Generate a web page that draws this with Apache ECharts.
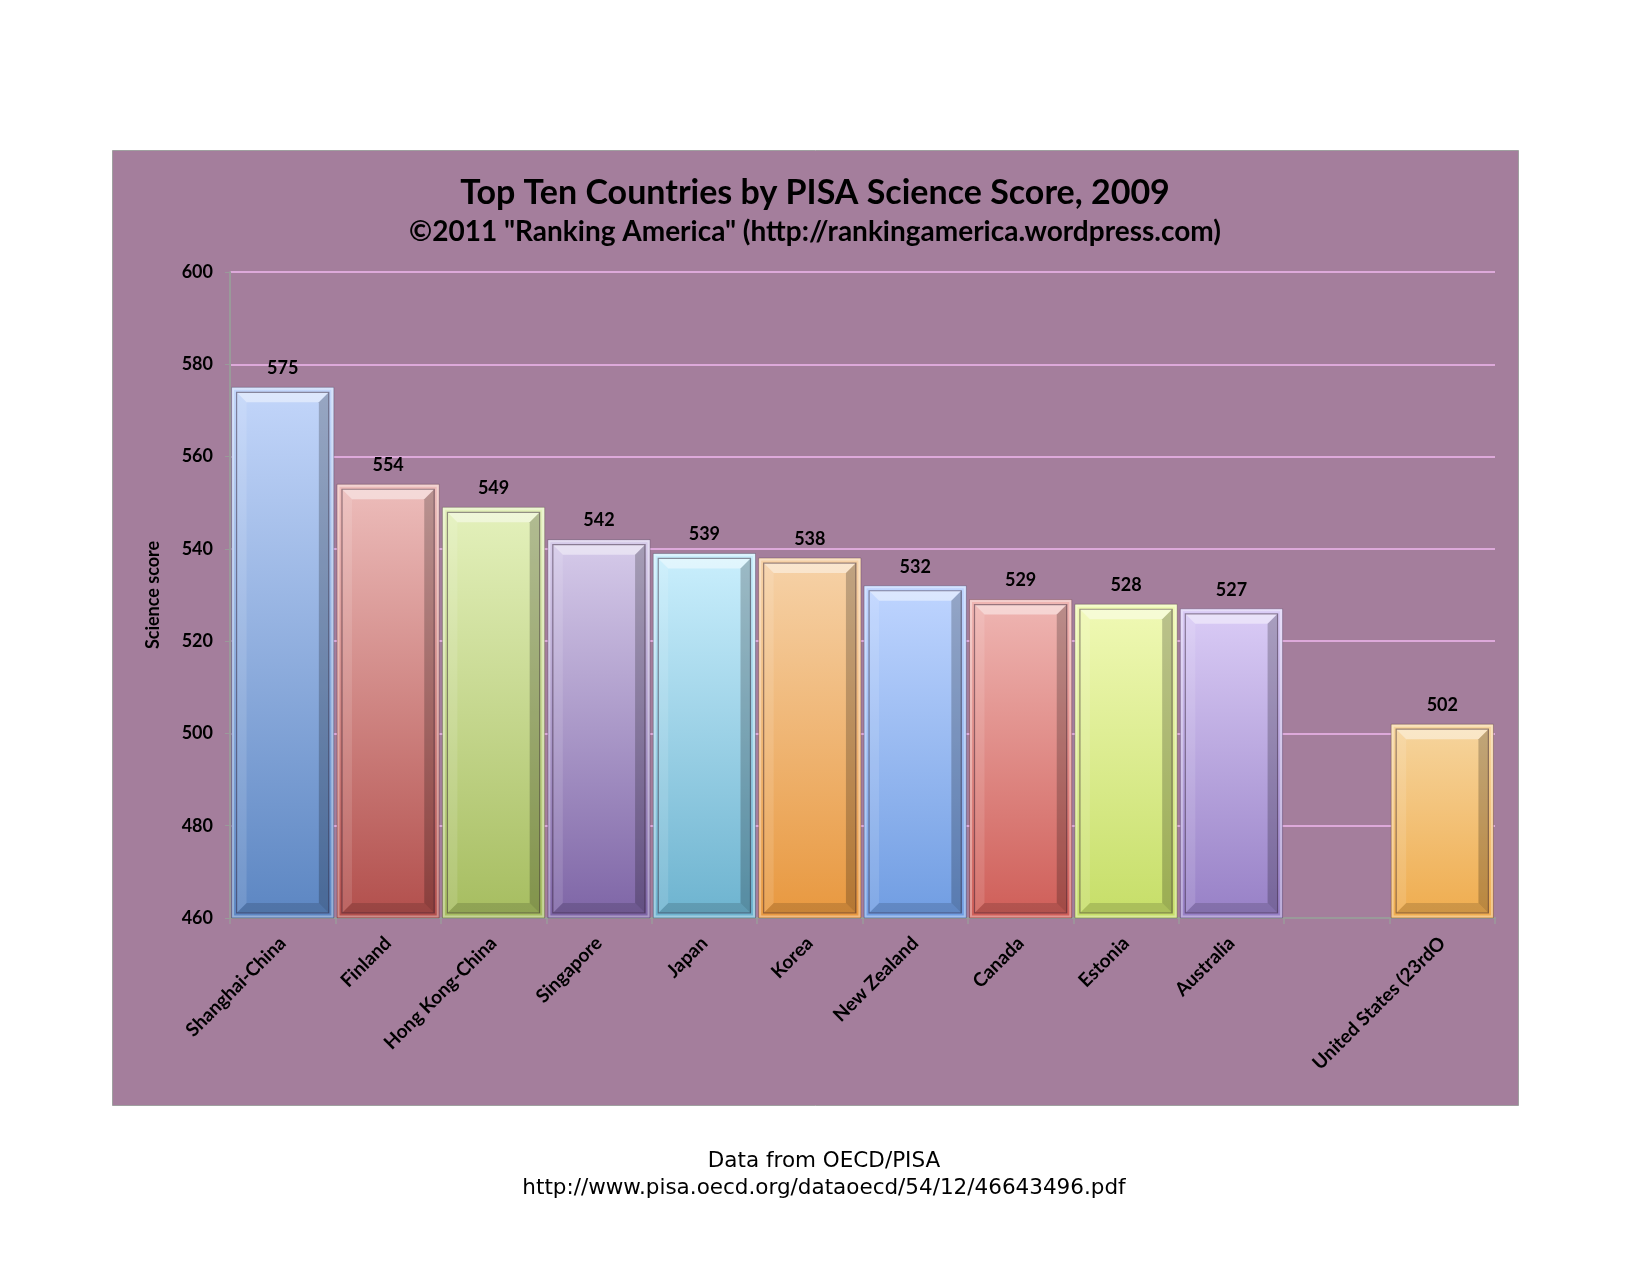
<!DOCTYPE html>
<html>
<head>
<meta charset="utf-8">
<script src="https://cdn.jsdelivr.net/npm/echarts@6/dist/echarts.min.js"></script>
<style>
html,body{margin:0;padding:0;background:#fff;}
#c{width:1651px;height:1275px;}
</style>
</head>
<body>
<div id="c"></div>
<script>
var categories = ['Shanghai-China','Finland','Hong Kong-China','Singapore','Japan','Korea','New Zealand','Canada','Estonia','Australia','','United States (23rdO'];
var scores = [575, 554, 549, 542, 539, 538, 532, 529, 528, 527, null, 502];
var topColors = ['#C3D6FA','#EDBDBB','#E4F1BC','#D6CBEA','#CAEFFD','#F6D2A8','#BFD5FF','#EFB6B3','#F0F9B5','#DACCF6',null,'#F6D59E'];
var bottomColors = ['#5C86C2','#B24F4C','#A6BD60','#7E65A6','#6DB3CF','#E8983F','#709DE2','#CF5E58','#C6DE68','#9780C6',null,'#EFAC4E'];
var yTicks = {min: 460, max: 600, step: 20};

var chart = echarts.init(document.getElementById('c'));
var FONT = 'Lato';

function renderBar(params, api) {
  var idx = api.value(0);
  var val = api.value(1);
  if (val == null || isNaN(val)) return;
  var top = api.coord([idx, val]);
  var bot = api.coord([idx, yTicks.min]);
  var w = api.size([1, 0])[0] * 0.97;
  var x0 = top[0] - w / 2, x1 = x0 + w, y0 = top[1], y1 = bot[1];
  var a = 5, b = 15;
  var grad = new echarts.graphic.LinearGradient(0, 0, 0, 1, [
    {offset: 0, color: topColors[idx]},
    {offset: 1, color: bottomColors[idx]}
  ]);
  return {
    type: 'group',
    children: [
      {type: 'rect', shape: {x: x0, y: y0, width: w, height: y1 - y0},
        style: {fill: grad, stroke: 'rgba(60,40,60,0.3)', lineWidth: 1}},
      {type: 'rect', shape: {x: x0 + 1.5, y: y0 + 1.5, width: w - 3, height: y1 - y0 - 3},
        style: {fill: 'none', stroke: 'rgba(255,255,255,0.35)', lineWidth: 2}},
      {type: 'polygon', shape: {points: [[x0 + a, y0 + a], [x1 - a, y0 + a], [x1 - b, y0 + b], [x0 + b, y0 + b]]},
        style: {fill: 'rgba(255,255,255,0.45)'}},
      {type: 'polygon', shape: {points: [[x0 + a, y1 - a], [x1 - a, y1 - a], [x1 - b, y1 - b], [x0 + b, y1 - b]]},
        style: {fill: 'rgba(0,0,0,0.14)'}},
      {type: 'polygon', shape: {points: [[x0 + a, y0 + a], [x0 + b, y0 + b], [x0 + b, y1 - b], [x0 + a, y1 - a]]},
        style: {fill: 'rgba(255,255,255,0.12)'}},
      {type: 'polygon', shape: {points: [[x1 - a, y0 + a], [x1 - b, y0 + b], [x1 - b, y1 - b], [x1 - a, y1 - a]]},
        style: {fill: 'rgba(0,0,0,0.22)'}},
      {type: 'rect', shape: {x: x0 + a, y: y0 + a, width: w - 2 * a, height: y1 - y0 - 2 * a},
        style: {fill: 'none', stroke: 'rgba(40,20,40,0.45)', lineWidth: 1.2}},
      {type: 'text', x: top[0], y: y0 - 10,
        style: {text: String(val), fill: '#000', font: 'bold 18px ' + FONT, align: 'center', verticalAlign: 'bottom'}}
    ]
  };
}

var data = categories.map(function (c, i) { return [i, scores[i]]; });

chart.setOption({
  animation: false,
  backgroundColor: '#ffffff',
  graphic: [
    {type: 'rect', z: -10, shape: {x: 112.5, y: 150.5, width: 1406, height: 955},
      style: {fill: '#A47E9C', stroke: '#A0A0A0', lineWidth: 1}},
    {type: 'text', x: 815, y: 193, z: 10,
      style: {text: 'Top Ten Countries by PISA Science Score, 2009', font: 'bold 34px ' + FONT, fill: '#000', align: 'center', verticalAlign: 'middle'}},
    {type: 'text', x: 815, y: 232, z: 10,
      style: {text: '\u00A92011 "Ranking America" (http://rankingamerica.wordpress.com)', font: 'bold 28px ' + FONT, fill: '#000', align: 'center', verticalAlign: 'middle'}},
    {type: 'text', x: 824, y: 1161, z: 10,
      style: {text: 'Data from OECD/PISA', font: '21.5px "DejaVu Sans"', fill: '#000', align: 'center', verticalAlign: 'middle'}},
    {type: 'text', x: 824, y: 1188, z: 10,
      style: {text: 'http://www.pisa.oecd.org/dataoecd/54/12/46643496.pdf', font: '21.5px "DejaVu Sans"', fill: '#000', align: 'center', verticalAlign: 'middle'}}
  ],
  grid: {left: 230, top: 272, right: 156, bottom: 357, containLabel: false},
  xAxis: {
    type: 'category',
    data: categories,
    boundaryGap: true,
    axisLine: {show: true, lineStyle: {color: '#9A9A9A', width: 2}},
    axisTick: {show: true, length: 6, lineStyle: {color: '#9A9A9A', width: 1.5}},
    axisLabel: {interval: 0, rotate: 45, margin: 22, color: '#000', fontFamily: FONT, fontWeight: 'bold', fontSize: 19}
  },
  yAxis: {
    type: 'value',
    min: yTicks.min, max: yTicks.max, interval: yTicks.step,
    name: 'Science score',
    nameLocation: 'middle',
    nameGap: 68,
    nameRotate: 90,
    nameTextStyle: {color: '#000', fontFamily: FONT, fontWeight: 'bold', fontSize: 18},
    axisLine: {show: true, lineStyle: {color: '#9A9A9A', width: 2}},
    axisTick: {show: true, length: 5, lineStyle: {color: '#9A9A9A'}},
    axisLabel: {margin: 17, color: '#000', fontFamily: FONT, fontWeight: 'bold', fontSize: 18},
    splitLine: {show: true, lineStyle: {color: '#DDA9DA', width: 2}}
  },
  series: [{
    type: 'custom',
    renderItem: renderBar,
    encode: {x: 0, y: 1},
    data: data,
    clip: false
  }]
});
</script>
</body>
</html>
